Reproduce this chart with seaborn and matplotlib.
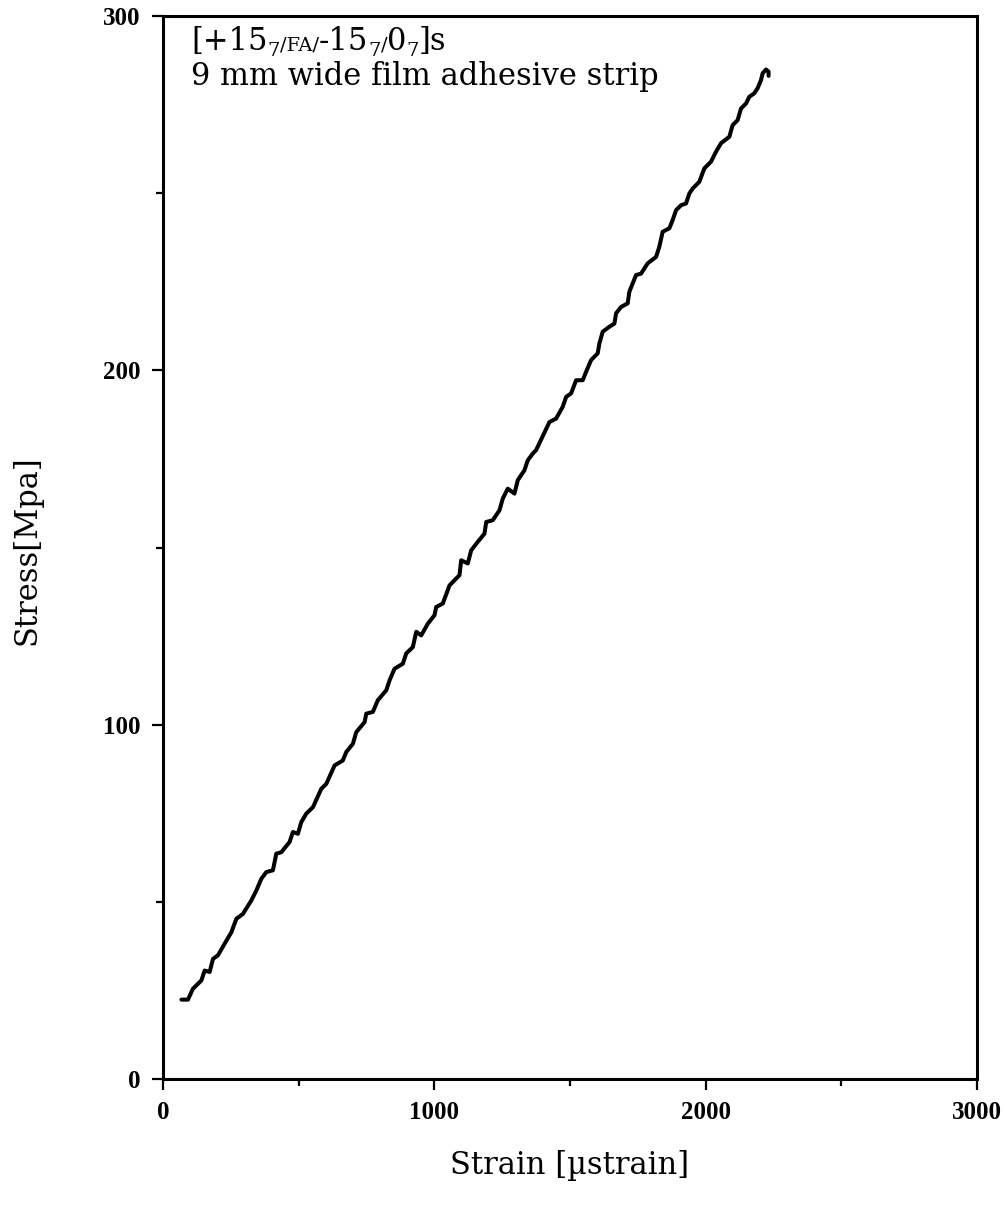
import matplotlib
matplotlib.use("Agg")
import matplotlib.pyplot as plt
import matplotlib.transforms as mtransforms
from matplotlib.ticker import MultipleLocator
import seaborn as sns
import pandas as pd

# Strain gauge reading [microstrain] and applied stress [MPa]
strain = [
    67.8, 92.1, 110.5, 141.4, 153.6, 172.0, 184.2, 202.6, 227.2, 251.9,
    270.3, 294.6, 325.6, 344.0, 362.4, 380.8, 405.1, 417.6, 436.1, 466.6,
    478.8, 497.2, 509.7, 528.1, 552.5, 583.4, 601.8, 632.4, 662.9, 675.5,
    699.8, 712.3, 742.9, 749.1, 773.4, 791.8, 822.8, 835.0, 853.4, 883.9,
    896.4, 920.8, 933.3, 951.7, 976.0, 1000.7, 1006.9, 1031.2, 1055.9, 1092.7,
    1099.0, 1123.3, 1135.8, 1160.1, 1184.8, 1191.1, 1215.4, 1240.1, 1252.2, 1270.6,
    1295.3, 1307.5, 1332.1, 1344.3, 1362.7, 1375.2, 1424.2, 1448.9, 1473.2, 1485.7,
    1504.1, 1522.5, 1546.9, 1559.4, 1577.8, 1602.1, 1608.4, 1620.5, 1645.2, 1663.6,
    1669.9, 1688.3, 1712.6, 1718.8, 1743.5, 1761.9, 1786.3, 1817.2, 1829.3, 1841.5,
    1866.2, 1878.3, 1890.9, 1909.3, 1927.7, 1939.8, 1952.0, 1976.5, 1995.1, 2019.8,
    2038.2, 2056.6, 2087.2, 2099.3, 2117.7, 2130.3, 2148.7, 2160.8, 2179.3, 2191.4,
    2203.9, 2209.8, 2222.3, 2231.9, 2231.9,
]
stress = [
    22.4, 22.4, 25.5, 27.8, 30.6, 30.2, 33.9, 34.9, 38.2, 41.4,
    45.2, 46.6, 50.4, 53.2, 56.5, 58.4, 58.9, 63.6, 64.0, 66.9,
    69.7, 69.2, 72.5, 74.9, 76.7, 81.9, 83.3, 88.5, 89.9, 92.3,
    94.6, 97.9, 100.7, 103.1, 103.6, 106.9, 109.7, 112.5, 115.8, 117.2,
    120.1, 121.9, 126.2, 125.2, 128.5, 130.9, 133.2, 134.2, 139.3, 142.2,
    146.4, 145.5, 149.2, 151.6, 153.9, 157.2, 157.7, 160.5, 163.8, 166.6,
    165.2, 169.0, 171.8, 174.6, 176.5, 177.5, 185.4, 186.4, 189.7, 192.5,
    193.5, 197.2, 197.2, 199.6, 202.9, 204.8, 207.6, 210.9, 212.3, 213.2,
    216.1, 217.9, 218.9, 222.2, 226.9, 227.3, 230.2, 232.0, 234.9, 239.1,
    240.1, 242.4, 245.2, 246.6, 247.1, 249.9, 251.3, 253.2, 257.0, 258.9,
    261.7, 264.1, 265.9, 269.2, 270.6, 273.9, 275.3, 277.2, 278.2, 279.6,
    281.9, 283.8, 284.9, 284.3, 283.1,
]

x_ticks = [0, 1000, 2000, 3000]
y_ticks = [0, 100, 200, 300]
x_label = "Strain [\u00b5strain]"
y_label = "Stress[Mpa]"
laminate_parts = ["[+15", "7", "/FA/", "-15", "7", "/", "0", "7", "]s"]
note_line = "9 mm wide film adhesive strip"

sns.set_style("ticks")
plt.rcParams["font.family"] = ["DejaVu Serif"]
plt.rcParams["text.color"] = "black"
plt.rcParams["axes.labelcolor"] = "black"

fig = plt.figure(figsize=(10.07, 12.10), dpi=100)
ax = fig.add_axes([163 / 1007, 1 - 1079 / 1210, 814 / 1007, 1063 / 1210])

df = pd.DataFrame({"strain": strain, "stress": stress})
sns.lineplot(data=df, x="strain", y="stress", sort=False, estimator=None,
             color="black", linewidth=2.9, ax=ax)

ax.set_xlim(0, 3000)
ax.set_ylim(0, 300)
ax.set_xticks(x_ticks)
ax.set_yticks(y_ticks)
ax.xaxis.set_minor_locator(MultipleLocator(500))
ax.yaxis.set_minor_locator(MultipleLocator(50))
tick_font = dict(fontfamily="Liberation Serif", fontsize=18, fontweight="bold")
ax.set_xticklabels([str(v) for v in x_ticks], **tick_font)
ax.set_yticklabels([str(v) for v in y_ticks], **tick_font)

for side in ["top", "right", "left", "bottom"]:
    ax.spines[side].set_visible(True)
    ax.spines[side].set_linewidth(2.2)
    ax.spines[side].set_color("black")

ax.tick_params(which="major", direction="out", length=8, width=1.6,
               color="black", labelcolor="black")
ax.tick_params(which="minor", direction="out", length=5, width=1.6, color="black")
ax.tick_params(axis="x", which="major", pad=8)
ax.tick_params(axis="y", which="major", pad=8)

ax.set_xlabel(x_label, fontsize=22, va="center", color="black")
ax.xaxis.set_label_coords(0.5, -0.081)
ax.set_ylabel(y_label, fontsize=22, va="center", color="black")
ax.yaxis.set_label_coords(-0.167, 0.498)
ax.grid(False)

# Laminate designation: main text with small subscripts and small-caps "FA"
big, small = 22, 14
styles = [(big, 0), (small, -6), (small, 0), (big, 0), (small, -6),
          (small, 0), (big, 0), (small, -6), (big, 0)]
fig.canvas.draw()
renderer = fig.canvas.get_renderer()
x0 = 191 / 1007
y0 = 1 - 50 / 1210
tr = fig.transFigure
offset = 0.0
for part, (size, dy) in zip(laminate_parts, styles):
    t_tr = mtransforms.offset_copy(tr, fig=fig, x=offset, y=dy, units="dots")
    t = fig.text(x0, y0, part, fontsize=size, color="black", va="baseline",
                 ha="left", transform=t_tr)
    ext = t.get_window_extent(renderer)
    offset += ext.width

fig.text(x0, 1 - 85 / 1210, note_line, fontsize=22, color="black",
         va="baseline", ha="left")

fig.savefig("out.png", dpi=100, facecolor="white")
